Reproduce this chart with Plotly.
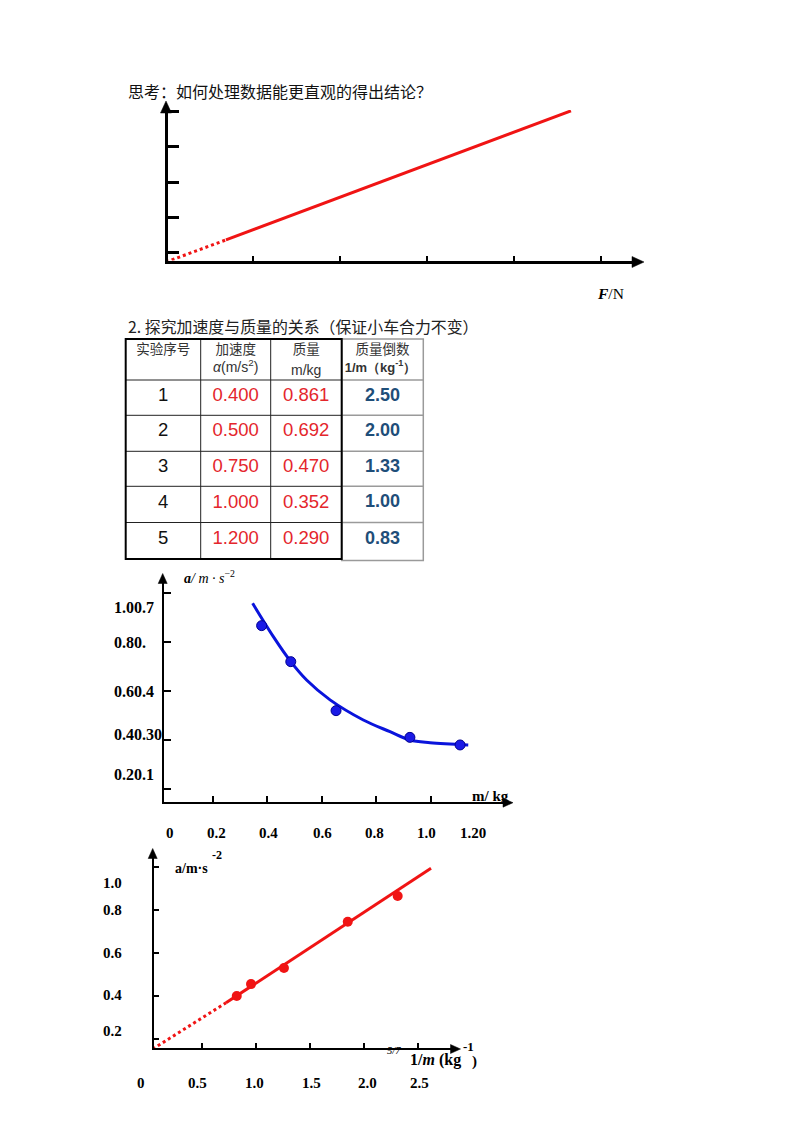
import plotly.graph_objects as go

W, H = 794, 1123


def px(x):
    return x / W


def py(y):
    return 1 - y / H


# ---------------- data ----------------
# chart 1: a–F sketch line (dotted extrapolation + solid part)
f_dot = [0.0, 0.69]
a_dot = [0.0, 0.63]
f_solid = [0.69, 4.66]
a_solid = [0.63, 4.31]
c1_xticks = [1, 2, 3, 4, 5]
c1_yticks = [0.28, 1.28, 2.28, 3.28, 4.28]

# table
table_headers_1 = ["实验序号", "加速度", "质量", "质量倒数"]
table_headers_2 = ["<i>α</i>(m/s<sup>2</sup>)", "m/kg", "<b>1/m（kg<sup>-1</sup>）</b>"]
trial_no = ["1", "2", "3", "4", "5"]
accel = ["0.400", "0.500", "0.750", "1.000", "1.200"]
mass = ["0.861", "0.692", "0.470", "0.352", "0.290"]
inv_mass = ["2.50", "2.00", "1.33", "1.00", "0.83"]

# chart 3: a vs m
m_pts = [0.379, 0.486, 0.652, 0.923, 1.107]
a_pts_m = [0.868, 0.721, 0.521, 0.412, 0.381]
m_curve = [0.346, 0.422, 0.486, 0.544, 0.630, 0.752, 0.850, 0.923, 0.997, 1.137]
a_curve = [0.959, 0.823, 0.721, 0.646, 0.565, 0.483, 0.435, 0.401, 0.390, 0.381]
c3_ticks_x = [0.2, 0.4, 0.6, 0.8, 1.0]
c3_ticks_y = [0.2, 0.4, 0.6, 0.8, 1.0]
c3_xlabels = ["0", "0.2", "0.4", "0.6", "0.8", "1.0", "1.20"]
c3_ylabels = ["1.00.7", "0.80.", "0.60.4", "0.40.30", "0.20.1"]

# chart 4: a vs 1/m
inv_pts = [0.824, 0.956, 1.260, 1.849, 2.310]
a_pts_inv = [0.398, 0.453, 0.528, 0.743, 0.863]
inv_fit_dot = [0.048, 0.725]
a_fit_dot = [0.151, 0.366]
inv_fit = [0.725, 2.618]
a_fit = [0.366, 0.992]
c4_ticks_x = [0.5, 1.0, 1.5, 2.0, 2.5]
c4_ticks_y = [0.2, 0.4, 0.6, 0.8, 1.0]
c4_xlabels = ["0", "0.5", "1.0", "1.5", "2.0", "2.5"]
c4_ylabels = ["1.0", "0.8", "0.6", "0.4", "0.2"]

# ---------------- styles ----------------
RED = "#f01414"
BLUE = "#0a14dc"
TRED = "#e4262c"
TBLUE = "#1f4e79"
SERIF = "Liberation Serif"
SANS = "Liberation Sans"
CJK = "Noto Sans CJK SC"

fig = go.Figure()
shapes = []


def arrow(xt, yt, direction, length, half):
    """Filled arrowhead at pixel tip (xt, yt)."""
    if direction == "right":
        pts = [(xt, yt), (xt - length, yt - half), (xt - length, yt + half)]
    else:
        pts = [(xt, yt), (xt - half, yt + length), (xt + half, yt + length)]
    path = "M {} {} L {} {} L {} {} Z".format(*[v for p in pts for v in (px(p[0]), py(p[1]))])
    shapes.append(dict(type="path", xref="paper", yref="paper", path=path,
                       fillcolor="black", line=dict(color="black", width=0.5)))


# ---------- chart 1 ----------
C1_UX, C1_UY = 86.9, 35.07
c1_x0, c1_y0 = 166, 262
c1_xr = [1.5 / C1_UX, (634 - c1_x0) / C1_UX]
c1_yr = [1.5 / C1_UY, (c1_y0 - 110) / C1_UY]

fig.add_trace(go.Scatter(x=f_dot, y=a_dot, mode="lines", line=dict(color=RED, width=3, dash="dot"),
                         xaxis="x", yaxis="y", cliponaxis=False, showlegend=False))
fig.add_trace(go.Scatter(x=f_solid, y=a_solid, mode="lines", line=dict(color=RED, width=3),
                         xaxis="x", yaxis="y", cliponaxis=False, showlegend=False))
arrow(644, 262, "right", 12, 5.5)
arrow(166, 101, "up", 12, 5.5)

# ---------- chart 3 ----------
fig.add_trace(go.Scatter(x=m_curve, y=a_curve, mode="lines", line=dict(color=BLUE, width=3, shape="spline"),
                         xaxis="x2", yaxis="y2", cliponaxis=False, showlegend=False))
fig.add_trace(go.Scatter(x=m_pts, y=a_pts_m, mode="markers",
                         marker=dict(size=10, color="#1a1ae6", line=dict(color="#000090", width=1)),
                         xaxis="x2", yaxis="y2", cliponaxis=False, showlegend=False))
c3_xr = [(163.7 - 158.3) / 272.6, (506 - 158.3) / 272.6]
c3_yr = [1.0 - (801.7 - 593.3) / 245, 1.0 + (593.3 - 582) / 245]
arrow(513, 802.7, "right", 10, 4.5)
arrow(162.7, 573.5, "up", 10, 4.5)

# ---------- chart 4 ----------
fig.add_trace(go.Scatter(x=inv_fit_dot, y=a_fit_dot, mode="lines", line=dict(color=RED, width=3, dash="dot"),
                         xaxis="x3", yaxis="y3", cliponaxis=False, showlegend=False))
fig.add_trace(go.Scatter(x=inv_fit, y=a_fit, mode="lines", line=dict(color=RED, width=3),
                         xaxis="x3", yaxis="y3", cliponaxis=False, showlegend=False))
fig.add_trace(go.Scatter(x=inv_pts, y=a_pts_inv, mode="markers",
                         marker=dict(size=10, color=RED),
                         xaxis="x3", yaxis="y3", cliponaxis=False, showlegend=False))
c4_xr = [(153.7 - 147.5) / 108.3, (454 - 147.5) / 108.3]
c4_yr = [0.8 - (1048 - 909.5) / 215, 0.8 + (909.5 - 857) / 215]
arrow(460.5, 1049, "right", 10, 4.5)
arrow(152.7, 848.5, "up", 10, 4.5)

# ---------- table (axis x4/y4 in cell units) ----------
col_edges = [0, 75, 145, 216, 297.6]
row_edges = [0, 41, 76.3, 112.3, 147.3, 183.5, 220]
col_centers = [(col_edges[i] + col_edges[i + 1]) / 2 for i in range(4)]
row_centers = [(row_edges[i] + row_edges[i + 1]) / 2 - 1.5 for i in range(1, 6)]

# 4th column (gray)
for ry in row_edges[1:-1]:
    shapes.append(dict(type="line", xref="x4", yref="y4", x0=216, x1=297.6, y0=ry, y1=ry,
                       line=dict(color="#9a9a9a", width=1.5)))
shapes.append(dict(type="rect", xref="x4", yref="y4", x0=216, x1=297.6, y0=0, y1=221.5,
                   line=dict(color="#9a9a9a", width=1.5)))
# main table
for cx in col_edges[1:3]:
    shapes.append(dict(type="line", xref="x4", yref="y4", x0=cx, x1=cx, y0=0, y1=220,
                       line=dict(color="#222", width=1)))
for ry in row_edges[1:-1]:
    shapes.append(dict(type="line", xref="x4", yref="y4", x0=0, x1=216, y0=ry, y1=ry,
                       line=dict(color="#222", width=1)))
shapes.append(dict(type="rect", xref="x4", yref="y4", x0=0, x1=216, y0=0, y1=220,
                   line=dict(color="black", width=2)))

fig.add_trace(go.Scatter(x=col_centers, y=[12] * 4, mode="text", text=table_headers_1,
                         textfont=dict(family=CJK, size=13.5, color="#333"),
                         xaxis="x4", yaxis="y4", showlegend=False, hoverinfo="skip"))
fig.add_trace(go.Scatter(x=[col_centers[1], col_centers[2], col_centers[3] - 2], y=[29.5, 32, 29.5], mode="text",
                         text=table_headers_2,
                         textfont=dict(family=SANS, size=[14, 14, 13], color="#333"),
                         xaxis="x4", yaxis="y4", showlegend=False, hoverinfo="skip"))
fig.add_trace(go.Scatter(x=[col_centers[0]] * 5, y=row_centers, mode="text", text=trial_no,
                         textfont=dict(family=SANS, size=18.5, color="#111"),
                         xaxis="x4", yaxis="y4", showlegend=False, hoverinfo="skip"))
fig.add_trace(go.Scatter(x=[col_centers[1]] * 5, y=row_centers, mode="text", text=accel,
                         textfont=dict(family=SANS, size=18.5, color=TRED),
                         xaxis="x4", yaxis="y4", showlegend=False, hoverinfo="skip"))
fig.add_trace(go.Scatter(x=[col_centers[2]] * 5, y=row_centers, mode="text", text=mass,
                         textfont=dict(family=SANS, size=18.5, color=TRED),
                         xaxis="x4", yaxis="y4", showlegend=False, hoverinfo="skip"))
fig.add_trace(go.Scatter(x=[col_centers[3]] * 5, y=row_centers, mode="text",
                         text=["<b>" + v + "</b>" for v in inv_mass],
                         textfont=dict(family=SANS, size=18, color=TBLUE),
                         xaxis="x4", yaxis="y4", showlegend=False, hoverinfo="skip"))

# ---------- annotations (free text) ----------
ann = []


def text(t, x, y, size, family=SERIF, xanchor="center", color="black"):
    ann.append(dict(text=t, x=px(x), y=py(y), xref="paper", yref="paper", showarrow=False,
                    xanchor=xanchor, yanchor="middle", font=dict(family=family, size=size, color=color)))


text("思考：如何处理数据能更直观的得出结论？", 126, 91, 16, CJK, "left", "#111")
text("<i><b>F</b></i>/N", 610, 293, 15.5)
text("2. 探究加速度与质量的关系（保证小车合力不变）", 126, 326, 15.9, CJK, "left", "#222")

# chart 3 labels
text("<b><i>a</i></b><i>/ m · s</i><sup>−2</sup>", 182, 577, 14, SERIF, "left")
text("<b>m/ kg</b>", 490, 796, 15)
c3_xlabel_pos = [170, 216, 268, 322, 374, 426, 473]
for t, x in zip(c3_xlabels, c3_xlabel_pos):
    text("<b>" + t + "</b>", x, 833, 15)
c3_ylabel_pos = [607.7, 642.7, 691, 734, 774]
for t, y in zip(c3_ylabels, c3_ylabel_pos):
    text("<b>" + t + "</b>", 112, y, 16, SERIF, "left")

# chart 4 labels
text("<b>a/m·s</b>", 173, 868, 14, SERIF, "left")
text("<b>-2</b>", 217, 855, 12)
text("<i>5/7</i>", 394, 1050, 10.5)
text("<b>1/<i>m</i> (kg</b>", 408, 1060, 16, SERIF, "left")
text("<b>-1</b>", 468, 1046, 13)
text("<b>)</b>", 474, 1061, 15)
c4_xlabel_pos = [140.5, 197, 254, 311, 367, 419]
for t, x in zip(c4_xlabels, c4_xlabel_pos):
    text("<b>" + t + "</b>", x, 1083, 15)
c4_ylabel_pos = [882.7, 909.5, 952.5, 995, 1030.5]
for t, y in zip(c4_ylabels, c4_ylabel_pos):
    text("<b>" + t + "</b>", 112.5, y, 15)

axis_common = dict(showgrid=False, zeroline=False, showline=True, linecolor="black",
                   showticklabels=False, ticks="inside", tickcolor="black", fixedrange=True)

fig.update_layout(
    width=W, height=H, margin=dict(l=0, r=0, t=0, b=0),
    paper_bgcolor="white", plot_bgcolor="rgba(0,0,0,0)",
    showlegend=False,
    xaxis=dict(domain=[px(167.5), px(634)], range=c1_xr, anchor="y", linewidth=3,
               tickvals=c1_xticks, ticklen=5, tickwidth=2, **axis_common),
    yaxis=dict(domain=[py(260.5), py(110)], range=c1_yr, anchor="x", linewidth=3,
               tickvals=c1_yticks, ticklen=11, tickwidth=3, **axis_common),
    xaxis2=dict(domain=[px(163.7), px(506)], range=c3_xr, anchor="y2", linewidth=2,
                tickvals=c3_ticks_x, ticklen=6, tickwidth=2, **axis_common),
    yaxis2=dict(domain=[py(801.7), py(582)], range=c3_yr, anchor="x2", linewidth=2,
                tickvals=c3_ticks_y, ticklen=7, tickwidth=2, **axis_common),
    xaxis3=dict(domain=[px(153.7), px(454)], range=c4_xr, anchor="y3", linewidth=2,
                tickvals=c4_ticks_x, ticklen=5, tickwidth=2, **axis_common),
    yaxis3=dict(domain=[py(1048), py(857)], range=c4_yr, anchor="x3", linewidth=2,
                tickvals=c4_ticks_y, ticklen=5, tickwidth=2, **axis_common),
    xaxis4=dict(domain=[px(122.7), px(426.3)], range=[-3, 300.6], anchor="y4", visible=False, fixedrange=True),
    yaxis4=dict(domain=[py(563), py(336)], range=[224, -3], anchor="x4", visible=False, fixedrange=True),
    shapes=shapes,
    annotations=ann,
)

fig.write_html("out.html")
